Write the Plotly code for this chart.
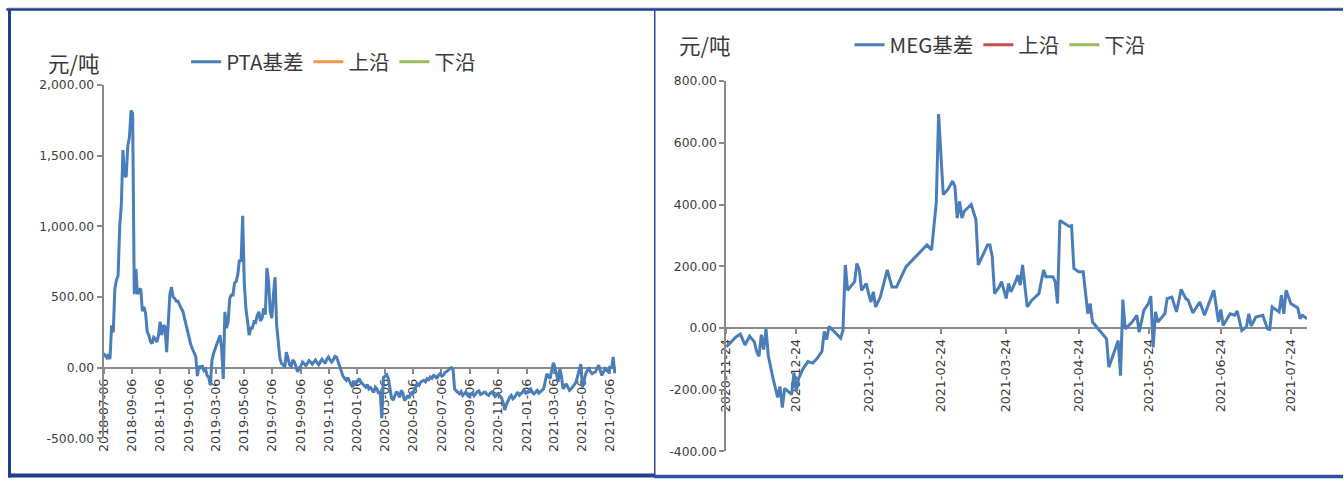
import pandas as pd
import plotly.graph_objects as go

# ---------------- data ----------------
PTA_START = "2018-07-06"
PTA_FREQ = "84h"          # two readings per week
pta_values = [
    100, 85, 70, 95, 60, 300, 250, 560, 620, 650, 1000, 1150, 1540, 1360, 1350, 1570, 1630, 1820, 1800, 520,
    700, 520, 550, 560, 400, 430, 385, 255, 230, 185, 170, 215, 205, 180, 230, 325, 230, 300, 290, 110,
    330, 520, 570, 500, 490, 470, 470, 440, 420, 400, 350, 310, 265, 220, 160, 130, 100, 80, -60, 10,
    0, 15, -20, -10, -55, -70, -125, 50, 100, 130, 160, 200, 230, 135, -80, 395, 280, 325, 490, 515,
    515, 600, 610, 660, 765, 750, 1075, 600, 420, 330, 230, 280, 280, 325, 320, 370, 395, 330, 350, 420,
    375, 705, 610, 400, 350, 515, 640, 300, 160, 65, 30, 20, 0, 110, 65, 20, 10, 55, 40, 10,
    -30, 0, 10, 40, 28, 15, 30, 50, 40, 25, 40, 55, 35, 20, 40, 60, 45, 30, 60, 75,
    55, 40, 55, 80, 75, 40, 5, -30, -60, -75, -90, -70, -100, -120, -138, -95, -114, -90, -78, -100,
    -114, -125, -138, -120, -150, -140, -160, -175, -138, -150, -185, -170, -360, -70, -60, -50, -75, -150, -215, -230,
    -200, -170, -185, -210, -160, -180, -232, -220, -197, -215, -173, -185, -160, -140, -114, -125, -102, -95, -90, -100,
    -78, -85, -66, -75, -55, -60, -78, -55, -43, -60, -55, -35, -30, -20, -7, 0, -14, -150, -165, -175,
    -185, -170, -197, -185, -173, -195, -205, -190, -180, -200, -180, -170, -165, -190, -185, -175, -173, -190, -197, -180,
    -173, -190, -205, -195, -185, -200, -215, -250, -300, -260, -232, -210, -197, -220, -209, -190, -173, -195, -185, -170,
    -161, -180, -173, -160, -150, -175, -185, -170, -161, -180, -173, -160, -150, -90, -43, -60, -78, -20, 35, 0,
    -60, -100, -7, -60, -150, -130, -114, -140, -161, -150, -138, -120, -102, -60, -19, 24, -140, -90, -43, -20,
    -7, -30, -43, -35, -30, -5, 17, -20, -55, -30, -7, -20, -30, 10, -7, 75, -40,
]
pta_dates = pd.date_range(PTA_START, periods=len(pta_values), freq=PTA_FREQ)

meg_dates = [
    "2020-11-24", "2020-11-26", "2020-11-28", "2020-11-30", "2020-12-02", "2020-12-04",
    "2020-12-06", "2020-12-07", "2020-12-08", "2020-12-09", "2020-12-10", "2020-12-11",
    "2020-12-12", "2020-12-14", "2020-12-16", "2020-12-17", "2020-12-18", "2020-12-19",
    "2020-12-21", "2020-12-22", "2020-12-23", "2020-12-24", "2020-12-25", "2020-12-27",
    "2020-12-29", "2020-12-31", "2021-01-02", "2021-01-04", "2021-01-05", "2021-01-06",
    "2021-01-07", "2021-01-10", "2021-01-12", "2021-01-13", "2021-01-14", "2021-01-15",
    "2021-01-17", "2021-01-18", "2021-01-19", "2021-01-20", "2021-01-21", "2021-01-23",
    "2021-01-24", "2021-01-25", "2021-01-26", "2021-01-27", "2021-01-29", "2021-02-01",
    "2021-02-03", "2021-02-05", "2021-02-09", "2021-02-13", "2021-02-18", "2021-02-20",
    "2021-02-22", "2021-02-23", "2021-02-25", "2021-02-27", "2021-03-01", "2021-03-02",
    "2021-03-03", "2021-03-04", "2021-03-05", "2021-03-06", "2021-03-09", "2021-03-10",
    "2021-03-11", "2021-03-12", "2021-03-14", "2021-03-16", "2021-03-17", "2021-03-18",
    "2021-03-19", "2021-03-21", "2021-03-22", "2021-03-24", "2021-03-25", "2021-03-26",
    "2021-03-28", "2021-03-29", "2021-03-30", "2021-03-31", "2021-04-02", "2021-04-04",
    "2021-04-07", "2021-04-09", "2021-04-10", "2021-04-13", "2021-04-14", "2021-04-15",
    "2021-04-16", "2021-04-19", "2021-04-20", "2021-04-21", "2021-04-22", "2021-04-24",
    "2021-04-26", "2021-04-28", "2021-04-29", "2021-04-30", "2021-05-03", "2021-05-06",
    "2021-05-07", "2021-05-11", "2021-05-12", "2021-05-13", "2021-05-14", "2021-05-17",
    "2021-05-19", "2021-05-20", "2021-05-22", "2021-05-24", "2021-05-25", "2021-05-26",
    "2021-05-27", "2021-05-28", "2021-05-31", "2021-06-01", "2021-06-03", "2021-06-05",
    "2021-06-07", "2021-06-09", "2021-06-10", "2021-06-12", "2021-06-15", "2021-06-17",
    "2021-06-21", "2021-06-23", "2021-06-24", "2021-06-25", "2021-06-28", "2021-06-30",
    "2021-07-01", "2021-07-03", "2021-07-05", "2021-07-06", "2021-07-07", "2021-07-09",
    "2021-07-12", "2021-07-14", "2021-07-15", "2021-07-16", "2021-07-19", "2021-07-20",
    "2021-07-21", "2021-07-22", "2021-07-24", "2021-07-26", "2021-07-27", "2021-07-28",
    "2021-07-29", "2021-07-31",
]
meg_values = [
    -62, -45, -30, -20, -55, -27,
    -45, -76, -92, -22, -70, -3,
    -90, -163, -225, -190, -258, -196,
    -207, -215, -145, -205, -163, -131,
    -109, -114, -98, -76, -11, -38,
    5, -16, -33, -8, 204, 122,
    139, 150, 209, 188, 122, 144,
    111, 84, 117, 68, 100, 188,
    133, 133, 198, 231, 269, 253,
    405, 693, 432, 449, 476, 459,
    356, 410, 356, 378, 400, 375,
    351, 204, 237, 269, 269, 231,
    111, 133, 150, 95, 144, 117,
    150, 171, 139, 204, 68, 90,
    111, 188, 166, 166, 150, 79,
    348, 334, 329, 331, 193, 182,
    182, 46, 79, 19, -8, -35,
    -127, -41, -155, 92, -3, 19,
    41, -14, 57, 80, 103, -63,
    52, 19, 46, 95, 100, 52,
    125, 95, 90, 49, 84, 41,
    122, 19, 60, 8, 46, 41,
    55, -8, 3, 46, 6, 35,
    41, -3, -5, 68, 52, 106,
    46, 122, 79, 68, 65, 30,
    41, 30,
]

pta_xticks = ["2018-07-06", "2018-09-06", "2018-11-06", "2019-01-06", "2019-03-06",
              "2019-05-06", "2019-07-06", "2019-09-06", "2019-11-06", "2020-01-06",
              "2020-03-06", "2020-05-06", "2020-07-06", "2020-09-06", "2020-11-06",
              "2021-01-06", "2021-03-06", "2021-05-06", "2021-07-06"]
meg_xticks = ["2020-11-24", "2020-12-24", "2021-01-24", "2021-02-24", "2021-03-24",
              "2021-04-24", "2021-05-24", "2021-06-24", "2021-07-24"]
pta_yticks = [-500, 0, 500, 1000, 1500, 2000]
pta_ytext = ["-500.00", "0.00", "500.00", "1,000.00", "1,500.00", "2,000.00"]
meg_yticks = [-400, -200, 0, 200, 400, 600, 800]
meg_ytext = ["-400.00", "-200.00", "0.00", "200.00", "400.00", "600.00", "800.00"]

pta_xrange = ["2018-07-06", "2021-07-19"]
meg_xrange = ["2020-11-24", "2021-07-31"]

# ---------------- layout helpers ----------------
# target positions are given in picture pixels; the capture maps page pixels to
# picture pixels as pic = S * page + C, so convert back before making paper fractions.
W, H = 1344, 484
SX, CX = 0.992, 9.6
SY, CY = 0.965, 7.4
def fx(px):
    return ((px - CX) / SX) / W
def fy(py):
    return 1 - ((py - CY) / SY) / H

BLUE = "#4a7ebb"
ORANGE = "#f79646"
RED = "#c0504d"
GREEN = "#9bbb59"
AXIS = "#8a8a8a"
TXT = "#3a3a3a"
BORDER = "#1f3f8f"
CJK = "Noto Sans CJK SC"
TICKF = "DejaVu Sans"

fig = go.Figure()
fig.add_trace(go.Scatter(x=pta_dates, y=pta_values, mode="lines", name="PTA基差",
                         line=dict(color=BLUE, width=3), xaxis="x", yaxis="y", legend="legend"))
fig.add_trace(go.Scatter(x=[pta_dates[0]], y=[None], mode="lines", name="上沿",
                         line=dict(color=ORANGE, width=3), xaxis="x", yaxis="y", legend="legend"))
fig.add_trace(go.Scatter(x=[pta_dates[0]], y=[None], mode="lines", name="下沿",
                         line=dict(color=GREEN, width=3), xaxis="x", yaxis="y", legend="legend"))
fig.add_trace(go.Scatter(x=meg_dates, y=meg_values, mode="lines", name="MEG基差",
                         line=dict(color=BLUE, width=3), xaxis="x2", yaxis="y2", legend="legend2"))
fig.add_trace(go.Scatter(x=[meg_dates[0]], y=[None], mode="lines", name="上沿",
                         line=dict(color=RED, width=3), xaxis="x2", yaxis="y2", legend="legend2"))
fig.add_trace(go.Scatter(x=[meg_dates[0]], y=[None], mode="lines", name="下沿",
                         line=dict(color=GREEN, width=3), xaxis="x2", yaxis="y2", legend="legend2"))

# plot area geometry (picture pixels)
L_X0, L_X1, L_YT, L_YB = 105, 617, 85, 436
R_X0, R_X1, R_YT, R_YB = 727, 1307, 81, 449
L_ZERO = L_YB - (L_YB - L_YT) * (0 - pta_yticks[0]) / (pta_yticks[-1] - pta_yticks[0])
R_ZERO = R_YB - (R_YB - R_YT) * (0 - meg_yticks[0]) / (meg_yticks[-1] - meg_yticks[0])

xcommon = dict(type="date", anchor="free", tickformat="%Y-%m-%d", tickangle=-90,
               ticks="outside", ticklen=5, tickcolor=AXIS, tickwidth=1.5,
               showline=True, linecolor=AXIS, linewidth=2, showgrid=False, zeroline=False,
               tickfont=dict(family=TICKF, size=12.6, color=TXT), layer="below traces")
ycommon = dict(ticks="outside", ticklen=5, tickcolor=AXIS, tickwidth=1.5,
               showline=True, linecolor=AXIS, linewidth=2, showgrid=False, zeroline=False,
               tickfont=dict(family=TICKF, size=12.3, color=TXT))

legend_common = dict(orientation="h", xanchor="left", yanchor="middle",
                     font=dict(family=CJK, size=20.5, color=TXT), bgcolor="rgba(0,0,0,0)",
                     itemwidth=30, tracegroupgap=0)

fig.update_layout(
    width=W, height=H,
    margin=dict(l=0, r=0, t=0, b=0),
    paper_bgcolor="white", plot_bgcolor="rgba(0,0,0,0)",
    xaxis=dict(domain=[fx(L_X0), fx(L_X1)], position=fy(L_ZERO), range=pta_xrange,
               tickvals=pta_xticks, **xcommon),
    yaxis=dict(domain=[fy(L_YB), fy(L_YT)], anchor="x", range=[pta_yticks[0], pta_yticks[-1]],
               tickvals=pta_yticks, ticktext=pta_ytext, **ycommon),
    xaxis2=dict(domain=[fx(R_X0), fx(R_X1)], position=fy(R_ZERO), range=meg_xrange,
                tickvals=meg_xticks, **xcommon),
    yaxis2=dict(domain=[fy(R_YB), fy(R_YT)], anchor="x2", range=[meg_yticks[0], meg_yticks[-1]],
                tickvals=meg_yticks, ticktext=meg_ytext, **ycommon),
    legend=dict(x=fx(187.5), y=fy(62), **legend_common),
    legend2=dict(x=fx(850), y=fy(45), **legend_common),
    showlegend=True,
)

# unit labels
fig.add_annotation(text="元/吨", x=fx(75), y=fy(63), xref="paper", yref="paper",
                   xanchor="center", yanchor="middle",
                   showarrow=False, font=dict(family=CJK, size=21.5, color=TXT))
fig.add_annotation(text="元/吨", x=fx(705), y=fy(45), xref="paper", yref="paper",
                   xanchor="center", yanchor="middle",
                   showarrow=False, font=dict(family=CJK, size=21.5, color=TXT))

# frame decorations
shapes = [
    dict(type="rect", xref="paper", yref="paper", x0=0, x1=1, y0=fy(9), y1=1,
         fillcolor="#dcdcdc", line=dict(width=0), layer="below"),
    dict(type="line", xref="paper", yref="paper", x0=fx(8), x1=1, y0=fy(10), y1=fy(10),
         line=dict(color=BORDER, width=2.5)),
    dict(type="line", xref="paper", yref="paper", x0=1.5 / W, x1=1.5 / W, y0=fy(10), y1=fy(475),
         line=dict(color=BORDER, width=3)),
    dict(type="line", xref="paper", yref="paper", x0=0, x1=fx(656), y0=fy(473), y1=fy(473),
         line=dict(color=BORDER, width=4)),
    dict(type="line", xref="paper", yref="paper", x0=fx(655.5), x1=fx(655.5), y0=fy(10), y1=fy(475),
         line=dict(color="#2a4aa8", width=1.5)),
    dict(type="line", xref="paper", yref="paper", x0=fx(655), x1=1, y0=fy(474), y1=fy(474),
         line=dict(color="#2f4f9f", width=3.5)),
]
fig.update_layout(shapes=shapes)

# page title, cut off at the top edge in the original
fig.add_annotation(text="<b>基差走势</b>", x=fx(680), y=fy(6), xref="paper", yref="paper",
                   xanchor="center", yanchor="bottom", showarrow=False,
                   font=dict(family=CJK, size=24, color="#111111"))

fig.write_html("out.html", config={"displayModeBar": False},
               post_script="document.body.style.margin='0';")
